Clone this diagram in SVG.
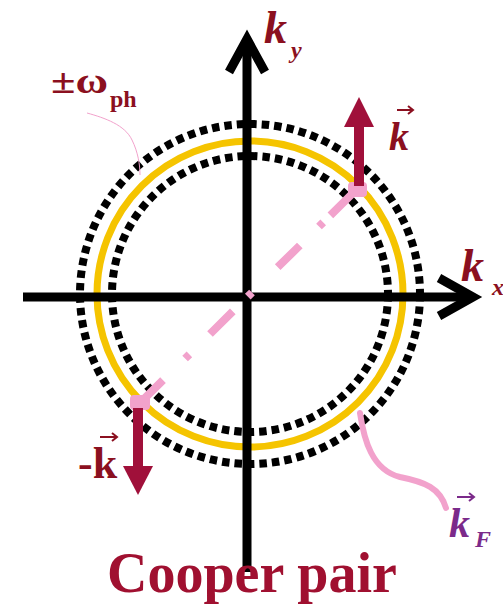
<svg xmlns="http://www.w3.org/2000/svg" width="503" height="604" viewBox="0 0 503 604">
<style>
.dots{fill:none;stroke:#000;stroke-width:8;stroke-dasharray:7.5 5}
.axis{fill:none;stroke:#000;stroke-width:9;stroke-linejoin:miter}
.red{fill:#a0103a}
.lbl{font-family:"Liberation Serif",serif;font-weight:bold;fill:#8b1020}
.it{font-style:italic}
.pink{fill:none;stroke:#f2a2cc}
</style>
<rect width="503" height="604" fill="#fff"/>
<g id="fermi-surface">
<circle class="dots" cx="250" cy="294" r="170"/>
<circle cx="250" cy="294" r="153" fill="none" stroke="#f5c400" stroke-width="7"/>
<circle class="dots" cx="250" cy="294" r="138"/>
</g>
<g id="axes">
<line class="axis" x1="23" y1="297" x2="472" y2="297"/>
<polyline class="axis" points="439,278 473,297 439,316"/>
<line class="axis" x1="247" y1="572" x2="247" y2="40"/>
<polyline class="axis" points="229,72 247,39 265,72"/>
</g>
<g id="connectors">
<path class="pink" stroke-width="8" d="M356,190L330.4,215.3M323.2,222.3L319,226.5M299.8,245.5L277.7,267.2M252,292.5L247.8,296.7M232.8,311.4L210,334M189.4,354.3L185.1,358.5M163,380.2L140.3,402.7"/>
<path class="pink" stroke-width="1" d="M87,113C105,118 125,125 132,140C138,152 140,165 140,175"/>
<path class="pink" stroke-width="6" stroke-linecap="round" d="M360,413C364,440 372,470 400,477C425,482 440,488 446,508"/>
</g>
<g id="pair-k">
<rect x="348" y="182" width="19" height="15" rx="4" fill="#f2a2cc"/>
<rect x="354" y="124" width="10" height="62" class="red"/>
<polygon class="red" points="359,97 344,127 374,127"/>
</g>
<g id="pair-minus-k">
<rect x="130" y="395" width="20" height="15" rx="4" fill="#f2a2cc"/>
<rect x="133" y="408" width="10" height="62" class="red"/>
<polygon class="red" points="138,495 123,466 153,466"/>
</g>
<g id="labels">
<text class="lbl it" x="264" y="43" font-size="46">k</text>
<text class="lbl it" x="291" y="58" font-size="24">y</text>
<text class="lbl it" x="461" y="281" font-size="46">k</text>
<text class="lbl it" x="492" y="295" font-size="24">x</text>
<text class="lbl it" x="389" y="150" font-size="40">k</text>
<path d="M397,110H412M408,106L413,110L408,114" fill="none" stroke="#8b1020" stroke-width="2"/>
<text class="lbl" x="78" y="478" font-size="44">-k</text>
<path d="M100,437H116M112,433L117,437L112,441" fill="none" stroke="#8b1020" stroke-width="2"/>
<text class="lbl" x="51" y="93" font-size="36" textLength="57" lengthAdjust="spacingAndGlyphs">±ω</text>
<text class="lbl" x="110" y="107" font-size="24">ph</text>
<text class="lbl it" x="449" y="537" font-size="42" style="fill:#7b2a8a">k</text>
<text class="lbl it" x="475" y="547" font-size="24" style="fill:#7b2a8a">F</text>
<path d="M457,497H473M469,493L474,497L469,501" fill="none" stroke="#7b2a8a" stroke-width="2"/>
<text class="lbl" x="107" y="592" font-size="56" style="fill:#a01030">Cooper pair</text>
</g>
</svg>
